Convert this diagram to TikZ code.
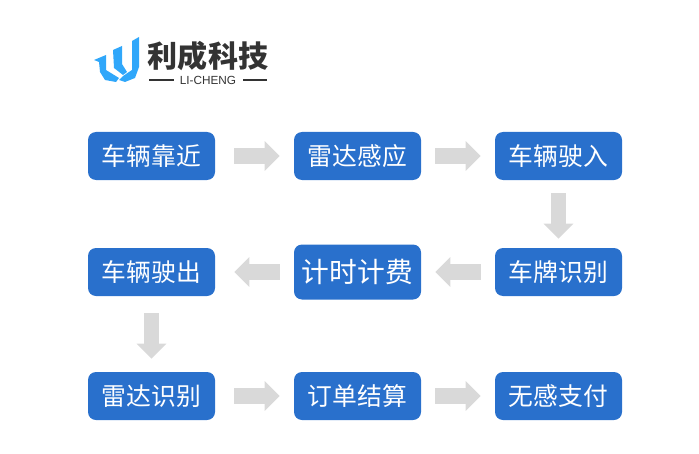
\documentclass[tikz,border=0pt]{standalone}
\usepackage{fontspec}
\setmainfont{Noto Sans CJK SC}
\setsansfont{Liberation Sans}
\definecolor{stepblue}{RGB}{41, 112, 204}
\definecolor{flowgray}{RGB}{217, 217, 217}
\definecolor{logoblue}{RGB}{48, 167, 250}
\definecolor{logodark}{RGB}{51, 51, 51}
\usetikzlibrary{arrows.meta, positioning}

\begin{document}
\begin{tikzpicture}[
  stepbox/.style={fill=stepblue, rounded corners=0.16cm, minimum width=2.54cm, minimum height=0.96cm, inner sep=0pt, text=white, font=\fontsize{14.1}{16}\selectfont},
  flow/.style={draw=flowgray, line width=0.31cm, -{Triangle[length=0.3cm,width=0.58cm]}}
]
  \useasboundingbox (0, 0) rectangle (13.98, 9.06);

  % logo
  \fill[logoblue] (1.88, 7.86) -- (2.12, 7.96) -- (2.12, 7.66) -- (2.38, 7.5) -- (2.32, 7.42) -- (2.1, 7.46) -- (2.0, 7.62) -- (1.98, 7.82) -- cycle;
  \fill[logoblue] (2.26, 8.06) -- (2.44, 8.14) -- (2.44, 7.78) -- (2.54, 7.62) -- (2.46, 7.56) -- (2.28, 7.7) -- cycle;
  \fill[logoblue] (2.64, 8.24) -- (2.78, 8.32) -- (2.78, 7.72) -- (2.7, 7.5) -- (2.5, 7.42) -- (2.38, 7.46) -- (2.46, 7.54) -- (2.64, 7.66) -- cycle;
  \node[text=logodark, font=\fontsize{17.1}{20}\bfseries\selectfont, inner sep=0pt] (logotext) at (4.16, 7.93) {利成科技};
  \node[text=logodark, font=\sffamily\fontsize{6.7}{8}\selectfont, inner sep=0pt] (logosub) at (4.16, 7.46) {LI-CHENG};
  \coordinate (ruleaa) at (2.98, 7.46);
  \coordinate (ruleab) at (3.48, 7.46);
  \coordinate (ruleba) at (4.86, 7.46);
  \coordinate (rulebb) at (5.34, 7.46);
  \draw[logodark, line width=0.7pt] (ruleaa) -- (ruleab);
  \draw[logodark, line width=0.7pt] (ruleba) -- (rulebb);

  % steps
  \node[stepbox] (approach) at (3.03, 5.94) {车辆靠近};
  \node[stepbox] (radar) at (7.15, 5.94) {雷达感应};
  \node[stepbox] (enter) at (11.17, 5.94) {车辆驶入};
  \node[stepbox] (plate) at (11.17, 3.62) {车牌识别};
  \node[stepbox, minimum height=1.1cm, font=\fontsize{15.8}{18}\selectfont] (billing) at (7.15, 3.62) {计时计费};
  \node[stepbox] (leave) at (3.03, 3.62) {车辆驶出};
  \node[stepbox] (detect) at (3.03, 1.14) {雷达识别};
  \node[stepbox] (order) at (7.15, 1.14) {订单结算};
  \node[stepbox] (pay) at (11.17, 1.14) {无感支付};

  \draw[flow, shorten <=0.38cm, shorten >=0.28cm] (approach) -- (radar);
  \draw[flow, shorten <=0.28cm, shorten >=0.28cm] (radar) -- (enter);
  \draw[flow, shorten <=0.26cm, shorten >=0.18cm] (enter) -- (plate);
  \draw[flow, shorten <=0.28cm, shorten >=0.28cm] (plate) -- (billing);
  \draw[flow, shorten <=0.28cm, shorten >=0.38cm] (billing) -- (leave);
  \draw[flow, shorten <=0.34cm, shorten >=0.26cm] (leave) -- (detect);
  \draw[flow, shorten <=0.38cm, shorten >=0.28cm] (detect) -- (order);
  \draw[flow, shorten <=0.28cm, shorten >=0.28cm] (order) -- (pay);
\end{tikzpicture}
\end{document}
